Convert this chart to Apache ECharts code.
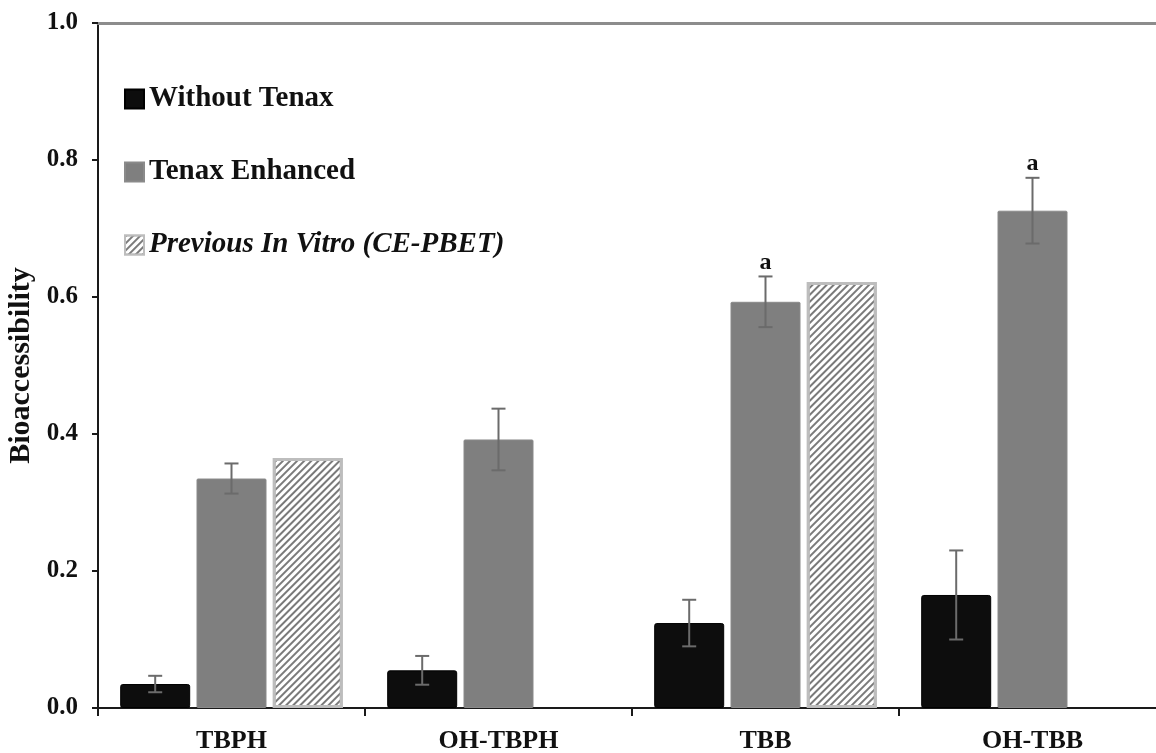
<!DOCTYPE html>
<html>
<head>
<meta charset="utf-8">
<script src="https://cdn.jsdelivr.net/npm/echarts@6/dist/echarts.min.js"></script>
<style>
html,body{margin:0;padding:0;background:#fff;}
#chart{width:1156px;height:753px;}
</style>
</head>
<body>
<div id="chart"></div>
<script>
// ---- data ----
var categories = ['TBPH', 'OH-TBPH', 'TBB', 'OH-TBB'];
var seriesNames = ['Without Tenax', 'Tenax Enhanced', 'Previous In Vitro (CE-PBET)'];
var withoutTenax = [0.035, 0.055, 0.124, 0.165];
var withoutTenaxErr = [0.012, 0.021, 0.034, 0.065];
var tenaxEnhanced = [0.335, 0.392, 0.593, 0.726];
var tenaxEnhancedErr = [0.022, 0.045, 0.037, 0.048];
var previousInVitro = [0.365, null, 0.622, null];
var tenaxSig = ['', '', 'a', 'a'];
var yTicks = [0, 0.2, 0.4, 0.6, 0.8, 1.0];

// ---- style ----
var FONT = "'Liberation Serif', 'Times New Roman', serif";
var BAR_W = 70;
var BAR_GAP_PCT = 9;
var NUM_BARS = 3;

function barOffset(i) {
  var step = BAR_W * (1 + BAR_GAP_PCT / 100);
  return (i - (NUM_BARS - 1) / 2) * step;
}

function errRender(seriesPos, errArr, sigArr) {
  return function (params, api) {
    var idx = api.value(0);
    var val = api.value(1);
    var err = errArr[params.dataIndex];
    var c = api.coord([idx, val]);
    var x = c[0] + barOffset(seriesPos);
    var yTop = api.coord([idx, val + err])[1];
    var yBot = api.coord([idx, val - err])[1];
    var cap = 7;
    var st = { stroke: '#6b6b6b', lineWidth: 2 };
    var children = [
      { type: 'line', shape: { x1: x, y1: yTop, x2: x, y2: yBot }, style: st },
      { type: 'line', shape: { x1: x - cap, y1: yTop, x2: x + cap, y2: yTop }, style: st },
      { type: 'line', shape: { x1: x - cap, y1: yBot, x2: x + cap, y2: yBot }, style: st }
    ];
    if (sigArr && sigArr[params.dataIndex]) {
      children.push({
        type: 'text',
        style: {
          x: x, y: yTop - 2, text: sigArr[params.dataIndex],
          align: 'center', verticalAlign: 'bottom',
          font: 'bold 24px ' + FONT, fill: '#111'
        }
      });
    }
    return { type: 'group', children: children };
  };
}

function errData(vals) {
  return vals.map(function (v, i) { return [i, v]; });
}

var chart = echarts.init(document.getElementById('chart'), null, { renderer: 'canvas' });

var option = {
  animation: false,
  backgroundColor: '#ffffff',
  grid: { left: 98, top: 23, width: 1068, bottom: 45, containLabel: false, outerBoundsMode: 'none' },
  legend: {
    orient: 'vertical',
    left: 119,
    top: 79,
    itemWidth: 19,
    itemHeight: 19,
    itemGap: 43,
    icon: 'rect',
    textStyle: { fontFamily: FONT, fontWeight: 'bold', fontSize: 29, color: '#111', lineHeight: 30 },
    data: [
      { name: seriesNames[0] },
      { name: seriesNames[1] },
      { name: seriesNames[2], textStyle: { fontStyle: 'italic' } }
    ]
  },
  xAxis: [
    {
      type: 'category',
      data: categories,
      axisLine: { lineStyle: { color: '#1a1a1a', width: 2 } },
      axisTick: { show: true, length: 8, lineStyle: { color: '#1a1a1a', width: 2 } },
      axisLabel: { fontFamily: FONT, fontWeight: 'bold', fontSize: 26, color: '#111', margin: 20 },
      splitLine: { show: false }
    },
    {
      type: 'category',
      data: categories,
      position: 'top',
      axisLine: { show: true, lineStyle: { color: '#8c8c8c', width: 3 } },
      axisTick: { show: false },
      axisLabel: { show: false },
      splitLine: { show: false }
    }
  ],
  yAxis: {
    type: 'value',
    min: yTicks[0],
    max: yTicks[yTicks.length - 1],
    interval: 0.2,
    name: 'Bioaccessibility',
    nameLocation: 'middle',
    nameGap: 62,
    nameTextStyle: { fontFamily: FONT, fontWeight: 'bold', fontSize: 30, color: '#111' },
    axisLine: { show: true, lineStyle: { color: '#1a1a1a', width: 2 } },
    axisTick: { show: true, length: 6, lineStyle: { color: '#1a1a1a', width: 2 } },
    axisLabel: {
      fontFamily: FONT, fontWeight: 'bold', fontSize: 25, color: '#111', margin: 20,
      formatter: function (v) { return v.toFixed(1); }
    },
    splitLine: { show: false }
  },
  series: [
    {
      name: seriesNames[0],
      type: 'bar',
      data: withoutTenax,
      barWidth: BAR_W,
      barGap: BAR_GAP_PCT + '%',
      itemStyle: { color: '#0d0d0d', borderColor: '#000', borderWidth: 1, borderRadius: 2 }
    },
    {
      name: seriesNames[1],
      type: 'bar',
      data: tenaxEnhanced,
      barWidth: BAR_W,
      barGap: BAR_GAP_PCT + '%',
      itemStyle: { color: '#7f7f7f', borderColor: '#8a8a8a', borderWidth: 1, borderRadius: 1 }
    },
    {
      name: seriesNames[2],
      type: 'bar',
      data: previousInVitro,
      barWidth: BAR_W,
      barGap: BAR_GAP_PCT + '%',
      itemStyle: {
        color: '#ffffff',
        borderColor: '#bdbdbd',
        borderWidth: 3,
        decal: {
          symbol: 'rect',
          symbolSize: 1,
          dashArrayX: [1, 0],
          dashArrayY: [2, 3],
          rotation: -Math.PI / 4,
          color: '#7a7a7a'
        }
      }
    },
    {
      type: 'custom',
      name: 'errWithout',
      data: errData(withoutTenax),
      renderItem: errRender(0, withoutTenaxErr, null),
      z: 10,
      silent: true
    },
    {
      type: 'custom',
      name: 'errTenax',
      data: errData(tenaxEnhanced),
      renderItem: errRender(1, tenaxEnhancedErr, tenaxSig),
      z: 10,
      silent: true
    }
  ]
};

chart.setOption(option);
</script>
</body>
</html>
